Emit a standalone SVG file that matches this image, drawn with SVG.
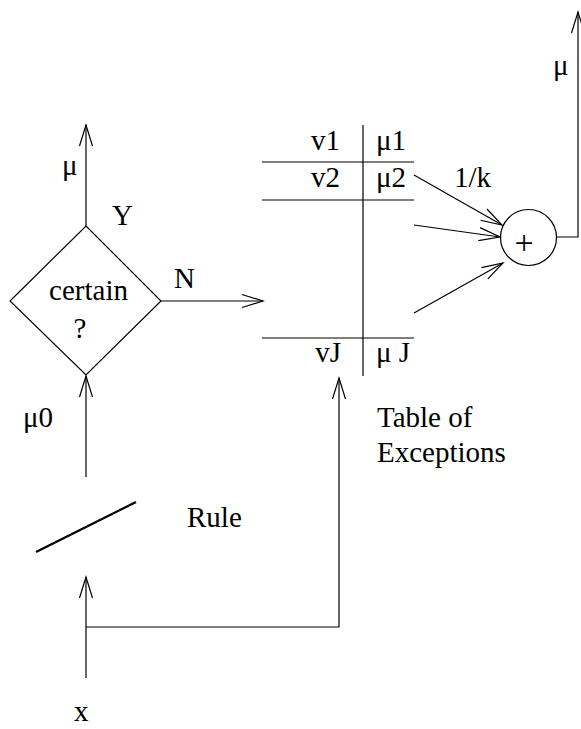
<svg xmlns="http://www.w3.org/2000/svg" width="581" height="729" viewBox="0 0 581 729">
<style>
text{font-family:"Liberation Serif","Times New Roman",serif;font-size:29px;fill:#000}
.ln{fill:none;stroke:#000;stroke-width:1.2}
.ar{fill:none;stroke:#000;stroke-width:1.2;marker-end:url(#v)}
</style>
<defs>
<marker id="v" markerUnits="userSpaceOnUse" markerWidth="30" markerHeight="20" viewBox="-24 -10 30 20" refX="0" refY="0" orient="auto">
<path d="M-21,-6.5 L0,0 L-21,6.5" fill="none" stroke="#000" stroke-width="1.2"/>
</marker>
</defs>
<rect width="581" height="729" fill="#fff"/>
<g id="decision">
<polygon class="ln" points="86,226 161,301 86,375 10,301"/>
<text x="88.5" y="300" text-anchor="middle">certain</text>
<text x="80" y="338" text-anchor="middle">?</text>
</g>
<g id="table">
<line class="ln" x1="363" y1="125" x2="363" y2="376"/>
<line class="ln" x1="262" y1="162" x2="414" y2="162"/>
<line class="ln" x1="262" y1="200" x2="414" y2="200"/>
<line class="ln" x1="262" y1="338" x2="414" y2="338"/>
<text x="340" y="150" text-anchor="end">v1</text>
<text x="376" y="150">μ1</text>
<text x="340" y="187" text-anchor="end">v2</text>
<text x="376" y="187">μ2</text>
<text x="341" y="362" text-anchor="end">vJ</text>
<text x="376" y="362">μ J</text>
<text x="377" y="427">Table of</text>
<text x="377" y="462">Exceptions</text>
</g>
<g id="sum">
<circle class="ln" cx="528.5" cy="237.5" r="28"/>
<text x="524" y="254" text-anchor="middle" style="font-size:34px">+</text>
</g>
<g id="rule">
<line x1="36" y1="552" x2="136" y2="502" stroke="#000" stroke-width="2.2"/>
<text x="187" y="527">Rule</text>
</g>
<g id="connectors">
<line class="ar" x1="86" y1="226" x2="86" y2="125"/>
<line class="ar" x1="161" y1="301" x2="263" y2="301"/>
<line class="ar" x1="86" y1="477" x2="86" y2="376"/>
<line class="ar" x1="86" y1="678" x2="86" y2="577"/>
<polyline class="ar" points="86,627 339,627 339,378"/>
<line class="ar" x1="414" y1="175" x2="502" y2="225"/>
<line class="ar" x1="414" y1="225" x2="500" y2="237"/>
<line class="ar" x1="414" y1="313" x2="503" y2="263"/>
<polyline class="ar" points="557,237 578,237 578,12"/>
</g>
<g id="labels">
<text x="62" y="175">μ</text>
<text x="112" y="225">Y</text>
<text x="174" y="288">N</text>
<text x="23" y="427">μ0</text>
<text x="553" y="75">μ</text>
<text x="454" y="187">1/k</text>
<text x="74" y="721">x</text>
</g>
</svg>
